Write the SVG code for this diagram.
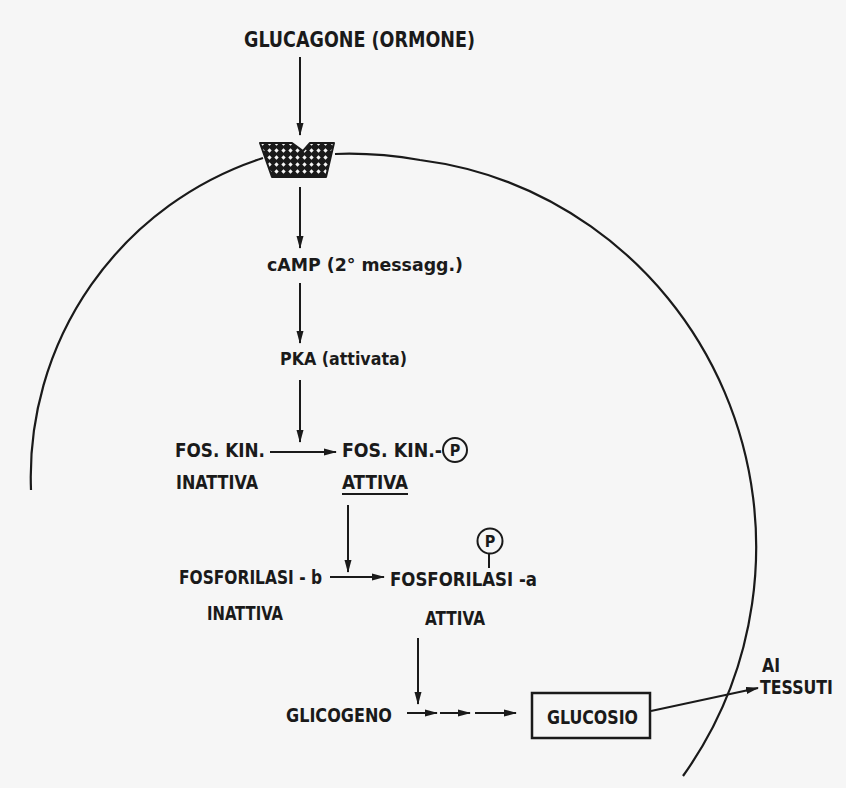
<svg xmlns="http://www.w3.org/2000/svg" width="846" height="788" viewBox="0 0 846 788">
<style>
.t{font-family:"Liberation Sans Narrow","DejaVu Sans Condensed","Liberation Sans",sans-serif;font-weight:bold;fill:#1a1a1a;font-size:19px}
.ln{stroke:#1a1a1a;stroke-width:2;fill:none}
.ar{stroke:#1a1a1a;stroke-width:2;fill:none;marker-end:url(#ah)}
.mem{stroke:#1a1a1a;stroke-width:2.2;fill:none}
</style>
<defs>
<marker id="ah" viewBox="0 0 13 8" refX="12" refY="4" markerWidth="13" markerHeight="8" orient="auto" markerUnits="userSpaceOnUse">
<path d="M0,0.5 L13,4 L0,7.5 Z" fill="#1a1a1a"/>
</marker>
<pattern id="hatch" patternUnits="userSpaceOnUse" width="7" height="7">
<rect width="7" height="7" fill="#1a1a1a"/>
<polygon points="3.5,1.3 5.7,3.5 3.5,5.7 1.3,3.5" fill="#f6f6f6"/>
</pattern>
</defs>
<rect width="846" height="788" fill="#f6f6f6"/>

<g id="membrane">
<path class="mem" d="M31,490 A335,335 0 0 1 263,158"/>
<path class="mem" d="M335,154 C360,153 385,154 420,160 A384,390 0 0 1 683,776"/>
</g>

<g id="receptor">
<polygon points="260,143 292,143 303,151 310,143 334,143 326,177 272,177" fill="url(#hatch)" stroke="#1a1a1a" stroke-width="2" stroke-linejoin="round"/>
</g>

<g id="glucagone"><text class="t" x="244" y="47" textLength="231" lengthAdjust="spacingAndGlyphs" style="font-size:21px">GLUCAGONE  (ORMONE)</text></g>
<g id="camp"><text class="t" x="267" y="271" textLength="196" lengthAdjust="spacingAndGlyphs" style="font-size:18px">cAMP  (2° messagg.)</text></g>
<g id="pka"><text class="t" x="280" y="365" textLength="127" lengthAdjust="spacingAndGlyphs" style="font-size:18px">PKA (attivata)</text></g>
<g id="foskin-inattiva">
<text class="t" x="175" y="457" textLength="90" lengthAdjust="spacingAndGlyphs">FOS. KIN.</text>
<text class="t" x="176" y="489" textLength="82" lengthAdjust="spacingAndGlyphs">INATTIVA</text>
</g>
<g id="foskin-attiva">
<text class="t" x="342" y="457" textLength="100" lengthAdjust="spacingAndGlyphs">FOS. KIN.-</text>
<circle cx="455" cy="450" r="12" fill="none" stroke="#1a1a1a" stroke-width="2"/>
<text class="t" x="455" y="456" text-anchor="middle" style="font-size:16px">P</text>
<text class="t" x="342" y="489" textLength="66" lengthAdjust="spacingAndGlyphs">ATTIVA</text>
<line class="ln" x1="342" y1="494" x2="408" y2="494"/>
</g>
<g id="fosforilasi-b">
<text class="t" x="179" y="584" textLength="143" lengthAdjust="spacingAndGlyphs">FOSFORILASI - b</text>
<text class="t" x="207" y="620" textLength="76" lengthAdjust="spacingAndGlyphs">INATTIVA</text>
</g>
<g id="fosforilasi-a">
<circle cx="490" cy="541" r="12.5" fill="none" stroke="#1a1a1a" stroke-width="2"/>
<text class="t" x="490" y="547" text-anchor="middle" style="font-size:16px">P</text>
<line class="ln" x1="489" y1="553.5" x2="489" y2="568"/>
<text class="t" x="390" y="586" textLength="147" lengthAdjust="spacingAndGlyphs">FOSFORILASI -a</text>
<text class="t" x="425" y="625" textLength="60" lengthAdjust="spacingAndGlyphs">ATTIVA</text>
</g>
<g id="glicogeno"><text class="t" x="286" y="722" textLength="106" lengthAdjust="spacingAndGlyphs">GLICOGENO</text></g>
<g id="glucosio">
<rect x="532" y="693" width="118" height="45" fill="none" stroke="#1a1a1a" stroke-width="2.5"/>
<text class="t" x="547" y="724" textLength="91" lengthAdjust="spacingAndGlyphs">GLUCOSIO</text>
</g>
<g id="tessuti">
<text class="t" x="762" y="672" textLength="18" lengthAdjust="spacingAndGlyphs">AI</text>
<text class="t" x="760" y="694" textLength="73" lengthAdjust="spacingAndGlyphs">TESSUTI</text>
</g>

<g id="connectors">
<line class="ar" x1="300" y1="57" x2="300" y2="135"/>
<line class="ar" x1="300" y1="187" x2="300" y2="248"/>
<line class="ar" x1="300" y1="283" x2="300" y2="343"/>
<line class="ar" x1="300" y1="380" x2="300" y2="442"/>
<line class="ar" x1="270" y1="452" x2="336" y2="452"/>
<line class="ar" x1="348" y1="505" x2="348" y2="572"/>
<line class="ar" x1="330" y1="577" x2="384" y2="577"/>
<line class="ar" x1="418" y1="638" x2="418" y2="704"/>
<line class="ar" x1="407" y1="713" x2="437" y2="713"/>
<line class="ar" x1="440" y1="713" x2="470" y2="713"/>
<line class="ar" x1="475" y1="713" x2="516" y2="713"/>
<line class="ar" x1="651" y1="711" x2="758" y2="688"/>
</g>
</svg>
